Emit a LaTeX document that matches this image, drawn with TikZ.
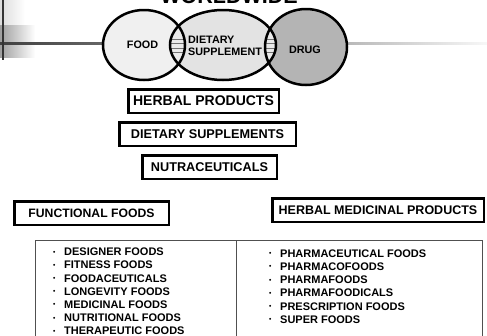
\documentclass[tikz,border=0pt]{standalone}
\usepackage{fontspec}
\setmainfont{Liberation Sans}
\usepackage{xcolor}
\usetikzlibrary{positioning}

\definecolor{foodgray}{HTML}{F0F0F0}
\definecolor{suppgray}{HTML}{E3E3E3}
\definecolor{druggray}{HTML}{B4B4B4}
\definecolor{lensgray}{HTML}{EAEAEA}
\definecolor{framegray}{HTML}{505050}
\newcommand{\listdot}{\makebox[11pt][l]{\raisebox{1.6pt}{\scalebox{0.6}{•}}}}

\begin{document}
\begin{tikzpicture}[
    x=1pt, y=-1pt,
    every node/.style={inner sep=0pt, font=\bfseries},
    venn/.style={draw=black, line width=2.5pt},
    namebox/.style={draw, line width=2.5pt, minimum height=23.5pt,
font=\fontsize{12.7}{14}\bfseries},
    vennlabel/.style={font=\fontsize{10.8}{12.5}\bfseries, align=left},
    itemlist/.style={font=\fontsize{11}{13.2}\bfseries, align=left, anchor=north west}]

    \useasboundingbox (0,0) rectangle (487,335);
    \clip (0,0) rectangle (487,335);

    % slide decoration
    \shade[left color=black!14, right color=white] (0,0) rectangle (25,25);
    \shade[left color=black!38, right color=white] (0,25) rectangle (35,57);
    \shade[left color=black!75, right color=black!60] (0,42) rectangle (104,44.5);
    \shade[left color=black!28, right color=black!3] (345,42) rectangle (487,44.5);
    \draw[black!80, line width=1.5pt] (3,0) -- (3,60);

    \node[anchor=base, font=\fontsize{21.5}{24}\bfseries] (title) at (229,3) {WORLDWIDE};

    % venn
    \fill[foodgray] (144,45) ellipse [x radius=41pt, y radius=35pt];
    \fill[suppgray] (223,45) ellipse [x radius=53pt, y radius=35pt];
    \fill[druggray] (306,47) ellipse [x radius=41pt, y radius=38pt];
    \begin{scope}
        \clip (144,45) ellipse [x radius=41pt, y radius=35pt];
        \clip (223,45) ellipse [x radius=53pt, y radius=35pt];
        \fill[lensgray] (160,0) rectangle (200,90);
        \foreach \y in {39,43.5,48,52.5}
            \draw[black!55, line width=0.8pt] (160,\y) -- (200,\y);
    \end{scope}
    \begin{scope}
        \clip (223,45) ellipse [x radius=53pt, y radius=35pt];
        \clip (306,47) ellipse [x radius=41pt, y radius=38pt];
        \fill[lensgray] (255,0) rectangle (290,90);
        \foreach \y in {39,43.5,48,52.5}
            \draw[black!55, line width=0.8pt] (255,\y) -- (290,\y);
    \end{scope}
    \draw[venn] (144,45) ellipse [x radius=41pt, y radius=35pt];
    \draw[venn] (223,45) ellipse [x radius=53pt, y radius=35pt];
    \draw[venn] (306,47) ellipse [x radius=41pt, y radius=38pt];

    \node[vennlabel] (food) at (142.5,45) {FOOD};
    \node[vennlabel, anchor=west] (supp) at (188,46) {DIETARY\\SUPPLEMENT};
    \node[vennlabel] (drug) at (305,50) {DRUG};

    % category boxes
    \node[namebox, minimum width=150.5pt, font=\fontsize{14}{16}\bfseries] (herbal) at (203.5,101) {HERBAL PRODUCTS};
    \node[namebox, minimum width=176.5pt, below=7pt of herbal, xshift=4pt] (dietary) {DIETARY SUPPLEMENTS};
    \node[namebox, minimum width=134.5pt, below=7pt of dietary, xshift=2pt] (nutra) {NUTRACEUTICALS};

    \node[namebox, minimum width=154.5pt, font=\fontsize{12.2}{14}\bfseries] (functional) at (91.5,213) {FUNCTIONAL FOODS};
    \node[namebox, minimum width=211.5pt, font=\fontsize{12.5}{14}\bfseries] (medicinal) at (378,210) {HERBAL MEDICINAL PRODUCTS};

    % table of names
    \draw[framegray, line width=1pt] (35,240) rectangle (482,350);
    \draw[framegray, line width=1pt] (236,240) -- (236,350);

    \node[itemlist] (foodlist) at (53,247.8) {\listdot DESIGNER FOODS\\ \listdot FITNESS FOODS\\
\listdot FOODACEUTICALS\\ \listdot LONGEVITY FOODS\\ \listdot MEDICINAL FOODS\\
\listdot NUTRITIONAL FOODS\\ \listdot THERAPEUTIC FOODS};
    \node[itemlist] (pharmalist) at (269,249.4) {\listdot PHARMACEUTICAL FOODS\\ \listdot PHARMACOFOODS\\
\listdot PHARMAFOODS\\ \listdot PHARMAFOODICALS\\ \listdot PRESCRIPTION FOODS\\
\listdot SUPER FOODS};

\end{tikzpicture}
\end{document}
